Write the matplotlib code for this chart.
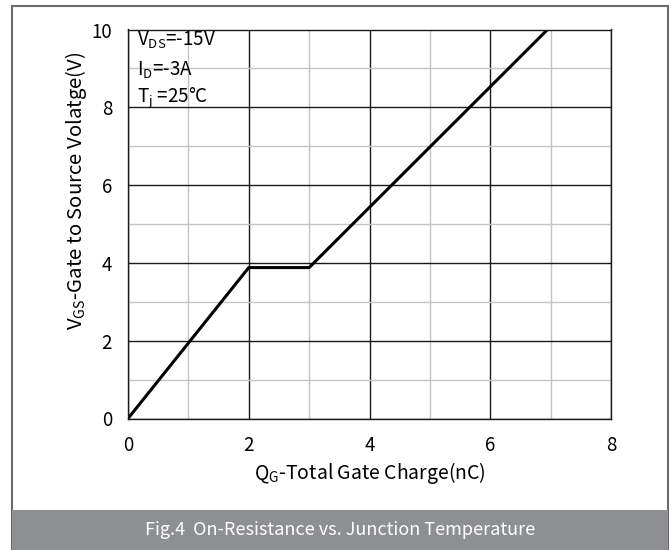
import matplotlib.pyplot as plt
from matplotlib.patches import Rectangle

plt.rcParams['font.family'] = ['Noto Sans CJK SC', 'DejaVu Sans']

# gate charge curve
qg = [0, 2, 3, 6.95]
vgs = [0, 3.88, 3.88, 10]

conditions = [r'V$\mathregular{_{DS}}$=-15V', r'I$\mathregular{_{D}}$=-3A', r'T$\mathregular{_{j}}$ =25°C']
caption = 'Fig.4  On-Resistance vs. Junction Temperature'

W, H = 671, 550
fig = plt.figure(figsize=(W / 100, H / 100), dpi=100)

# outer frame and caption bar
fig.patches.append(Rectangle((12 / W, 0), 656 / W, 544 / H, transform=fig.transFigure,
                             fill=False, edgecolor='#6b6b6b', linewidth=1.5))
fig.patches.append(Rectangle((12 / W, 0), 656 / W, 40 / H, transform=fig.transFigure,
                             facecolor='#8e8f93', edgecolor='none'))
fig.text(340 / W, 20 / H, caption, color='white', fontsize=13, ha='center', va='center')

ax = fig.add_axes([128 / W, (H - 418.5) / H, 483 / W, 389 / H])
ax.set_xlim(0, 8)
ax.set_ylim(0, 10)
ax.set_xticks(range(0, 9, 2))
ax.set_yticks(range(0, 11, 2))
ax.set_xticks(range(1, 8, 2), minor=True)
ax.set_yticks(range(1, 10, 2), minor=True)
ax.grid(which='minor', color='#c4c4c4', linewidth=1)
ax.grid(which='major', color='#1a1a1a', linewidth=1)
ax.set_axisbelow(True)
ax.tick_params(which='both', length=0, labelsize=13.5)
ax.tick_params(axis='x', pad=12)
ax.tick_params(axis='y', pad=11.5)
for s in ax.spines.values():
    s.set_color('#1a1a1a')
    s.set_linewidth(1)

ax.plot(qg, vgs, color='black', linewidth=2.2, solid_capstyle='butt')

for txt, y in zip(conditions, [9.73, 8.96, 8.26]):
    ax.text(0.15, y, txt, fontsize=13.5, va='center', ha='left')

ax.set_xlabel(r'Q$\mathregular{_{G}}$-Total Gate Charge(nC)', fontsize=14, labelpad=3)
ax.set_ylabel(r'V$\mathregular{_{GS}}$-Gate to Source Volatge(V)', fontsize=14.6)
ax.yaxis.set_label_coords(-0.08, 0.585)

fig.savefig('out.png', dpi=100)
